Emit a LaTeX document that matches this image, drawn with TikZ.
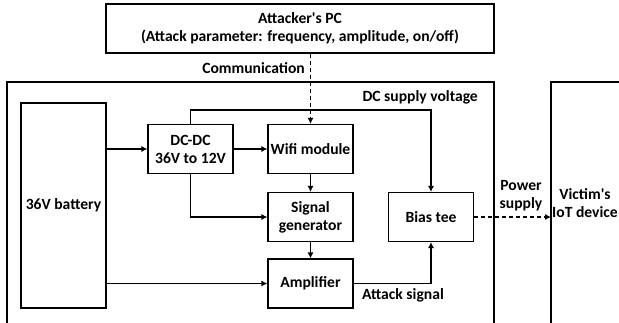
\documentclass[tikz,border=0pt]{standalone}
\usepackage{fontspec}
\setmainfont{Carlito}
\usetikzlibrary{calc}
\usetikzlibrary{arrows.meta}

\begin{document}
\begin{tikzpicture}[x=1pt,y=-1pt,
  box/.style={draw,line width=1.1pt,align=center,inner sep=0pt,minimum width=85pt,minimum height=49pt,font=\bfseries\fontsize{15.6}{18}\selectfont},
  lbl/.style={align=center,inner sep=0pt,font=\bfseries\fontsize{15.6}{18}\selectfont},
  wire/.style={line width=1.1pt,-{Latex[length=6pt,width=6pt]}},
  dashwire/.style={wire,dash pattern=on 4pt off 3pt}]

\useasboundingbox (0,0) rectangle (619,322);
\clip (0,0) rectangle (619,322);

\coordinate (bus) at (190.5,110);
\coordinate (vin) at (551,217);

\draw[line width=1.1pt] (7,82) rectangle (494,340);
\draw[line width=1.1pt] (551,82) rectangle (640,340);

\node[box,minimum width=388pt] (pc) at (300,28.5) {Attacker\textquotesingle s PC\\(Attack parameter: frequency, amplitude, on/off)};
\node[box,minimum height=205pt] (bat) at (63.5,205.5) {36V battery};
\node[box] (dcdc) at (190.5,149) {DC-DC\\36V to 12V};
\node[box] (wifi) at (310.5,149) {Wifi module};
\node[box] (siggen) at (310.5,217) {Signal\\generator};
\node[box] (amp) at (310.5,283.5) {Amplifier};
\node[box] (bias) at (431,217) {Bias tee};

\node[lbl,anchor=east] (comm) at (305,68) {Communication};
\node[lbl,anchor=east] (dcv) at (478,97) {DC supply voltage};
\node[lbl] (atk) at (403,295) {Attack signal};
\node[lbl] (pwr) at (521,196) {Power\\supply};
\node[lbl] (victim) at (585,203) {Victim\textquotesingle s\\IoT device};

\draw[dashwire] (pc.south -| wifi) -- (wifi.north);
\draw[wire] (bat.east |- dcdc) -- (dcdc.west);
\draw[wire] (dcdc) -- (wifi);
\draw[wire] (wifi) -- (siggen);
\draw[wire] (siggen) -- (amp);
\draw[wire] (dcdc.south) |- (siggen.west);
\draw[wire] (bat.east |- amp) -- (amp.west);
\draw[wire] (amp.east) -| (bias.south);
\draw[wire] (dcdc.north) -- (bus) -| (bias.north);
\draw[dashwire] (bias.east) -- (vin);

\end{tikzpicture}
\end{document}
